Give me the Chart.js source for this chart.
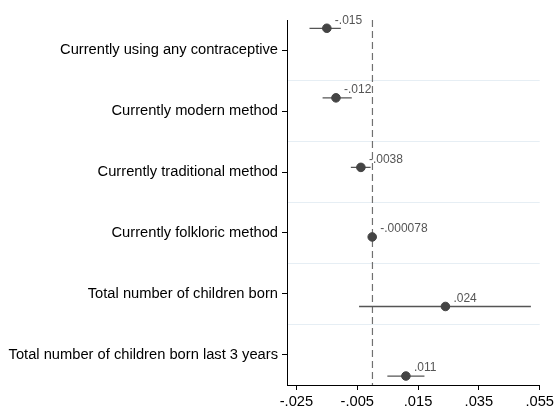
<!DOCTYPE html>
<html>
<head>
<meta charset="utf-8">
<script src="https://cdn.jsdelivr.net/npm/chart.js@4"></script>
<style>
  body { margin: 0; background: #fff; }
  #wrap { width: 557px; height: 409px; }
</style>
</head>
<body>
<div id="wrap"><canvas id="myChart" width="557" height="409"></canvas></div>
<script>
const categories = [
  'Currently using any contraceptive',
  'Currently modern method',
  'Currently traditional method',
  'Currently folkloric method',
  'Total number of children born',
  'Total number of children born last 3 years'
];
const estimates = [-0.015, -0.012, -0.0038, -0.000078, 0.024, 0.011];
const ciLow = [-0.0207, -0.0164, -0.0071, -0.0004, -0.0044, 0.0049];
const ciHigh = [-0.0104, -0.0068, -0.0006, 0.00025, 0.0521, 0.0171];
const valueLabels = ['-.015', '-.012', '-.0038', '-.000078', '.024', '.011'];
const xTicks = [-0.025, -0.005, 0.015, 0.035, 0.055];

function stataFmt(v) {
  let s = String(Math.round(v * 1000) / 1000);
  return s.replace(/^(-?)0\./, '$1.');
}

const ciSets = estimates.map((e, i) => ({
  type: 'line',
  data: [{ x: ciLow[i], y: i + 1 }, { x: ciHigh[i], y: i + 1 }],
  borderColor: '#555',
  borderWidth: 1.3,
  pointRadius: 0,
  yAxisID: 'y2',
  order: 2
}));

const valueLabelPlugin = {
  id: 'valueLabels',
  afterDatasetsDraw(chart) {
    const meta = chart.getDatasetMeta(0);
    const ctx = chart.ctx;
    ctx.save();
    ctx.font = '12px "Liberation Sans", Arial, sans-serif';
    ctx.fillStyle = '#555';
    ctx.textAlign = 'left';
    ctx.textBaseline = 'middle';
    meta.data.forEach((pt, i) => {
      ctx.fillText(valueLabels[i], pt.x + 8, pt.y - 8);
    });
    ctx.restore();
  }
};

const ctx = document.getElementById('myChart').getContext('2d');
new Chart(ctx, {
  type: 'scatter',
  data: {
    datasets: [{
      data: estimates.map((v, i) => ({ x: v, y: i + 1 })),
      backgroundColor: '#444',
      borderColor: '#444',
      pointRadius: 4.3,
      pointHoverRadius: 4.3,
      yAxisID: 'y2',
      order: 0
    }, ...ciSets, {
      type: 'line',
      data: [{ x: 0, y: 0.5 }, { x: 0, y: 6.5 }],
      borderColor: '#707070',
      borderWidth: 1.2,
      borderDash: [7, 4],
      pointRadius: 0,
      yAxisID: 'y',
      order: 3
    }]
  },
  options: {
    responsive: false,
    animation: false,
    layout: { padding: { left: 0, top: 20, right: 15, bottom: 0 } },
    plugins: { legend: { display: false }, tooltip: { enabled: false } },
    scales: {
      x: {
        type: 'linear',
        min: -0.0281,
        max: 0.055,
        afterBuildTicks: s => { s.ticks = xTicks.map(v => ({ value: v })); },
        afterFit: s => { s.height = 24; },
        ticks: {
          callback: v => stataFmt(v),
          color: '#000',
          font: { family: '"Liberation Sans", Arial, sans-serif', size: 14.7 },
          padding: 3,
          maxRotation: 0
        },
        grid: { drawOnChartArea: false, tickLength: 5, tickColor: '#000' },
        border: { color: '#000', width: 1 }
      },
      y: {
        type: 'linear',
        reverse: true,
        min: 0.5,
        max: 6.5,
        afterBuildTicks: s => {
          const t = [];
          for (let i = 1; i <= 6; i += 0.5) t.push({ value: i });
          s.ticks = t;
        },
        afterFit: s => { s.width = 287; },
        ticks: {
          autoSkip: false,
          callback: v => Number.isInteger(v) ? categories[v - 1] : '',
          color: '#000',
          font: { family: '"Liberation Sans", Arial, sans-serif', size: 14.7 },
          padding: 4
        },
        grid: {
          color: c => Number.isInteger(c.tick.value) ? 'rgba(0,0,0,0)' : '#e6eef4',
          tickColor: c => Number.isInteger(c.tick.value) ? '#000' : 'rgba(0,0,0,0)',
          tickLength: 5,
          lineWidth: 1
        },
        border: { color: '#000', width: 1 }
      },
      y2: {
        type: 'linear',
        display: false,
        reverse: true,
        min: 0.881,
        max: 6.129
      }
    }
  },
  plugins: [valueLabelPlugin]
});
</script>
</body>
</html>
